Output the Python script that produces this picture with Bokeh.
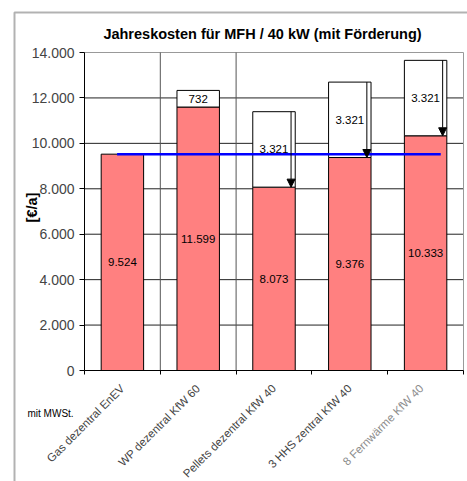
import math
from bokeh.plotting import figure
from bokeh.core.properties import value
from bokeh.models import (Range1d, FixedTicker, Arrow, NormalHead, Label,
                          ColumnDataSource, LabelSet, BoxAnnotation)
from bokeh.embed import file_html
from bokeh.resources import INLINE

# ---- data ----
categories = ["Gas dezentral EnEV", "WP dezentral KfW 60", "Pellets dezentral KfW 40",
              "3 HHS zentral KfW 40", "8 Fernwärme KfW 40"]
base_costs = [9524, 11599, 8073, 9376, 10333]          # red segment
extra_costs = [0, 732, 3321, 3321, 3321]               # white segment on top
subsidy_arrow = [False, False, True, True, True]        # arrow in white segment
reference_value = 9524                                  # blue line
y_ticks = [0, 2000, 4000, 6000, 8000, 10000, 12000, 14000]
y_tick_labels = ["0", "2.000", "4.000", "6.000", "8.000", "10.000", "12.000", "14.000"]
title_text = "Jahreskosten für MFH / 40 kW (mit Förderung)"
y_label = "[€/a]"
note_text = "mit MWSt."

FONT = "Liberation Sans"
W, H = 467, 481
# plot area in pixels (layout)
PL, PR, PT, PB = 84, 463, 52, 370
n = len(categories)
y_max = y_ticks[-1]


def fmt(v):
    return f"{v:,}".replace(",", ".")


def px_x(sx):
    return (sx - PL) / (PR - PL) * n


def px_y(sy):
    return (PB - sy) / (PB - PT) * y_max


centers = [i + 0.5 for i in range(n)]
bar_w = 0.56

p = figure(width=W, height=H, title=None,
           x_range=Range1d(px_x(0), px_x(W)), y_range=Range1d(px_y(H), px_y(0)),
           output_backend="svg", toolbar_location=None, min_border=0)
p.outline_line_color = None
p.background_fill_color = "white"
p.border_fill_color = "white"
p.xgrid.visible = False
p.ygrid.visible = False

# ---- axes fixed at the plot-area edges ----
p.yaxis.fixed_location = 0
p.yaxis.bounds = (0, y_max)
p.yaxis.ticker = FixedTicker(ticks=y_ticks)
p.yaxis.major_label_overrides = {t: l for t, l in zip(y_ticks, y_tick_labels)}
p.yaxis.major_label_text_font = FONT
p.yaxis.major_label_text_font_size = "14px"
p.yaxis.major_tick_out = 5
p.yaxis.major_tick_in = 0
p.yaxis.minor_tick_line_color = None
p.yaxis.major_label_standoff = 5
p.yaxis.axis_line_color = "black"

p.xaxis.fixed_location = 0
p.xaxis.bounds = (0, n)
p.xaxis.ticker = FixedTicker(ticks=centers, minor_ticks=list(range(n + 1)))
overrides = {c: lab for c, lab in zip(centers, categories)}
overrides[centers[-1]] = ""
p.xaxis.major_label_overrides = overrides
p.xaxis.major_label_orientation = math.pi / 4
p.xaxis.major_label_text_font = FONT
p.xaxis.major_label_text_font_size = "11.5px"
p.xaxis.major_tick_out = 0
p.xaxis.major_tick_in = 0
p.xaxis.minor_tick_out = 4
p.xaxis.minor_tick_in = 0
p.xaxis.minor_tick_line_color = "black"
p.xaxis.major_label_standoff = 12
p.xaxis.axis_line_color = "black"

# ---- grid lines and plot-area border ----
inner_ticks = y_ticks[1:-1]
p.segment(x0=[0] * len(inner_ticks), x1=[n] * len(inner_ticks), y0=inner_ticks, y1=inner_ticks,
          line_color="#222222", line_width=1)
p.segment(x0=[0, n], x1=[n, n], y0=[y_max, 0], y1=[y_max, y_max],
          line_color="#999999", line_width=1)
p.segment(x0=[1, 2], x1=[1, 2], y0=[0, 0], y1=[y_max, y_max],
          line_color="#555555", line_width=1)

# ---- bars ----
tops = [b + e for b, e in zip(base_costs, extra_costs)]
src = ColumnDataSource(dict(
    x=centers, base=base_costs, top=tops, zero=[0] * n,
    base_mid=[b / 2 for b in base_costs],
    base_lab=[fmt(b) for b in base_costs],
))
p.vbar(x="x", bottom="zero", top="base", width=bar_w, source=src,
       fill_color="#FF8080", line_color="black", line_width=1)

ex_idx = [i for i in range(n) if extra_costs[i] > 0]
src2 = ColumnDataSource(dict(
    x=[centers[i] for i in ex_idx],
    bottom=[base_costs[i] for i in ex_idx],
    top=[tops[i] for i in ex_idx],
    mid=[base_costs[i] + extra_costs[i] / 2 for i in ex_idx],
    lab=[fmt(extra_costs[i]) for i in ex_idx],
))
p.vbar(x="x", bottom="bottom", top="top", width=bar_w, source=src2,
       fill_color="white", line_color="black", line_width=1)

# reference line
p.segment(x0=[0.43], y0=[reference_value], x1=[4.7], y1=[reference_value],
          line_color="#0000FF", line_width=2.5)

# arrows
for i in range(n):
    if subsidy_arrow[i]:
        ax = centers[i] + bar_w / 2 - 0.055
        p.add_layout(Arrow(end=NormalHead(size=8, fill_color="black", line_color="black"),
                           x_start=ax, y_start=tops[i], x_end=ax, y_end=base_costs[i],
                           line_color="black", line_width=1))

p.add_layout(LabelSet(x="x", y="base_mid", text="base_lab", source=src,
                      text_align="center", text_baseline="middle",
                      text_font=value(FONT), text_font_size=value("11.5px"), text_color="black"))
p.add_layout(LabelSet(x="x", y="mid", text="lab", source=src2,
                      text_align="center", text_baseline="middle",
                      text_font=value(FONT), text_font_size=value("11.5px"), text_color="black"))

# ---- texts ----
p.add_layout(Label(x=px_x(262), y=px_y(33), text=title_text, text_align="center",
                   text_baseline="middle", text_font=FONT, text_font_size="14.5px",
                   text_font_style="bold", text_color="black"))
p.add_layout(Label(x=px_x(31), y=px_y(207), text=y_label, angle=math.pi / 2,
                   text_align="center", text_baseline="middle", text_font=FONT,
                   text_font_size="14.5px", text_font_style="bold", text_color="black"))
p.add_layout(Label(x=px_x(27), y=px_y(413), text=note_text, text_align="left",
                   text_baseline="middle", text_font=FONT, text_font_size="10px",
                   text_color="black"))
p.add_layout(Label(x=px_x(421), y=px_y(386), text=categories[-1], angle=math.pi / 4,
                   text_align="right", text_baseline="middle", text_font=FONT,
                   text_font_size="11.5px", text_color="#8c8c8c"))

# outer frame (left and top edge visible)
p.add_layout(BoxAnnotation(left=px_x(14), right=px_x(W + 20), top=px_y(12), bottom=px_y(H + 20),
                           fill_alpha=0, line_color="black", line_width=2))

open("out.html", "w").write(file_html(p, INLINE))
